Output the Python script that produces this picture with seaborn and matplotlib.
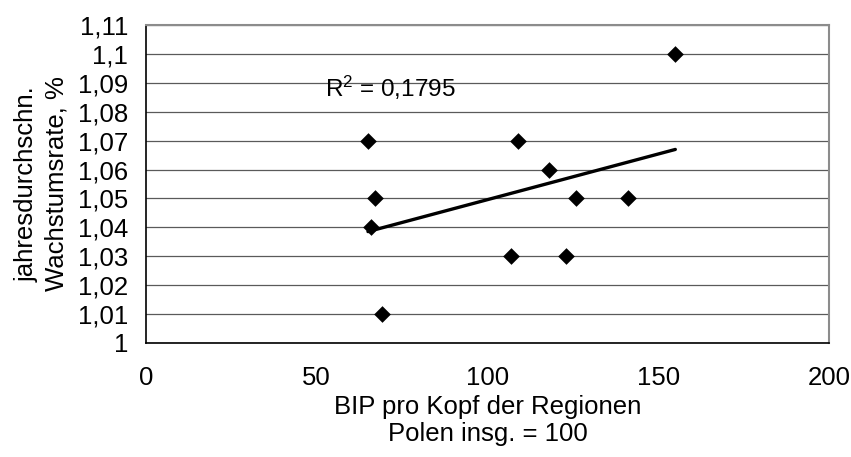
import numpy as np
import pandas as pd
import matplotlib
matplotlib.use("Agg")
import matplotlib.pyplot as plt
import seaborn as sns
from matplotlib.ticker import FixedLocator, FixedFormatter

# ---- data ----
bip = [65, 67, 66, 69, 155, 109, 118, 126, 141, 107, 123]
rate = [1.07, 1.05, 1.04, 1.01, 1.10, 1.07, 1.06, 1.05, 1.05, 1.03, 1.03]
x_ticks = [0, 50, 100, 150, 200]
x_tick_labels = ["0", "50", "100", "150", "200"]
y_ticks = [1.00, 1.01, 1.02, 1.03, 1.04, 1.05, 1.06, 1.07, 1.08, 1.09, 1.10, 1.11]
y_tick_labels = ["1", "1,01", "1,02", "1,03", "1,04", "1,05", "1,06", "1,07",
                 "1,08", "1,09", "1,1", "1,11"]
x_title = "BIP pro Kopf der Regionen\nPolen insg. = 100"
y_title = "jahresdurchschn.\nWachstumsrate, %"
r2_label = r"$\mathregular{R^2}$ = 0,1795"

df = pd.DataFrame({"bip": bip, "rate": rate})

sns.set_style("white")
plt.rcParams["font.family"] = ["Liberation Sans", "DejaVu Sans"]
plt.rcParams["mathtext.fontset"] = "custom"
plt.rcParams["mathtext.rm"] = "Liberation Sans"

fig = plt.figure(figsize=(8.51, 4.57), dpi=100)
ax = fig.add_axes([146 / 851, 1 - 343 / 457, (829 - 146) / 851, (343 - 25) / 457])

sns.regplot(data=df, x="bip", y="rate", ax=ax, ci=None, truncate=True,
            marker="D",
            scatter_kws=dict(s=72, color="black", linewidths=0, alpha=1),
            line_kws=dict(color="black", lw=2.4, solid_capstyle="round"))

ax.set_xlim(0, 200)
ax.set_ylim(1.0, 1.11)
ax.xaxis.set_major_locator(FixedLocator(x_ticks))
ax.xaxis.set_major_formatter(FixedFormatter(x_tick_labels))
ax.yaxis.set_major_locator(FixedLocator(y_ticks))
ax.yaxis.set_major_formatter(FixedFormatter(y_tick_labels))

ax.yaxis.grid(True, color="#5a5a5a", lw=0.9)
ax.xaxis.grid(False)
ax.set_axisbelow(True)

for s in ["left", "bottom"]:
    ax.spines[s].set_color("black")
    ax.spines[s].set_linewidth(1.2)
for s in ["top", "right"]:
    ax.spines[s].set_color("#8c8c8c")
    ax.spines[s].set_linewidth(1.5)

ax.tick_params(axis="both", which="major", direction="out", length=5.8,
               width=1.0, color="black", labelsize=18.5, labelcolor="black")
ax.tick_params(axis="x", pad=10.5)
ax.tick_params(axis="y", pad=7)

ax.set_xlabel(x_title, fontsize=18.5, linespacing=1.15, labelpad=4, color="black")
ax.set_ylabel(y_title, fontsize=18.5, linespacing=1.3, color="black")
ax.yaxis.set_label_coords(-0.113, 0.5)

ax.text(52.4, 1.085, r2_label, fontsize=17.5, ha="left", va="baseline", color="black")

fig.savefig("out.png", dpi=100)
